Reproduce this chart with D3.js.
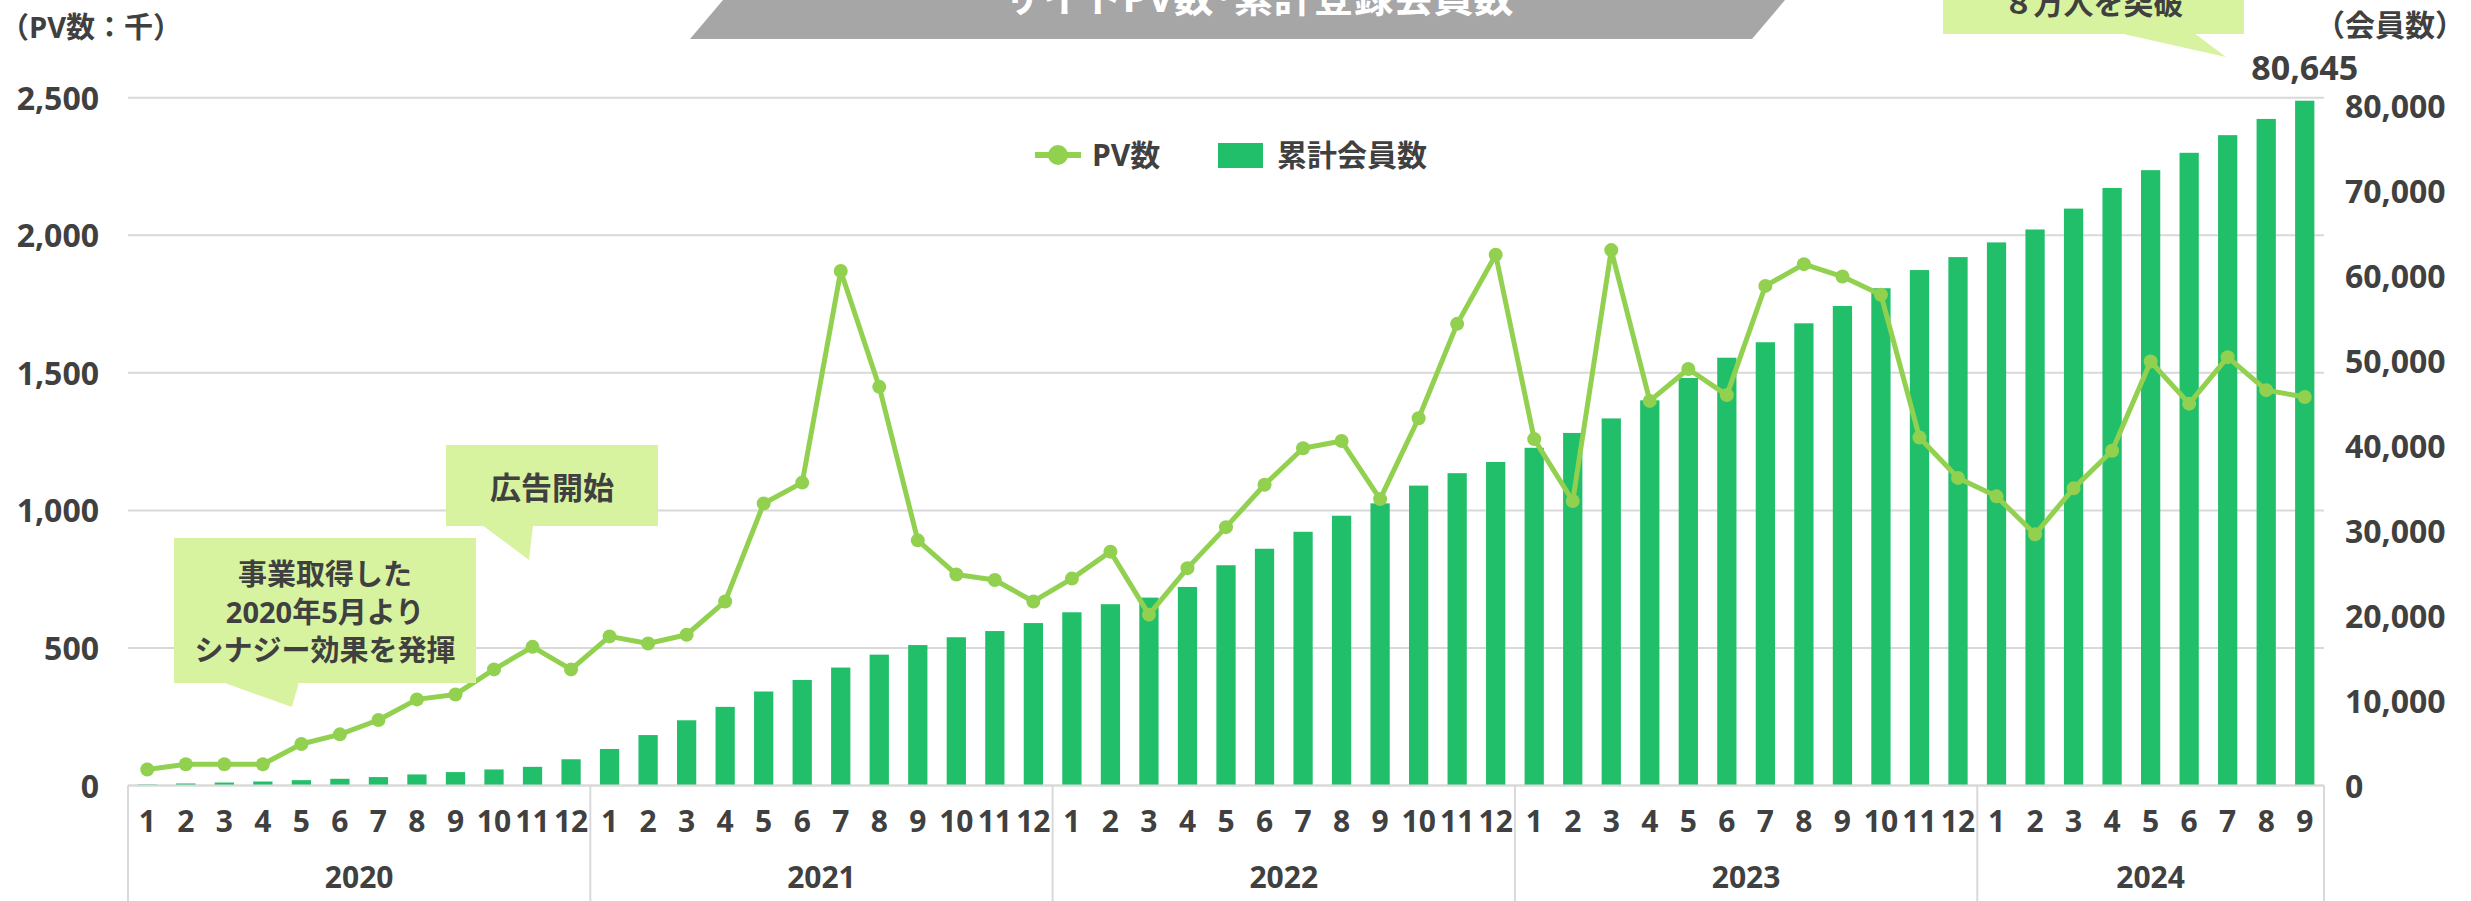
<!DOCTYPE html>
<html><head><meta charset="utf-8">
<script src="https://cdn.jsdelivr.net/npm/d3@7"></script>
<style>
html,body{margin:0;padding:0;background:#fff;}
svg{display:block;}
text{font-family:"Open Sans","Noto Sans CJK JP",sans-serif;font-weight:700;fill:#404040;}
</style></head>
<body>
<svg id="c" width="2471" height="901"></svg>
<script>
// ---- data ----
const years = ["2020","2021","2022","2023","2024"];
const monthsPerYear = [12,12,12,12,9];
const pv2020 = [58,77,77,77,151,186,238,313,331,422,504,422];
const pv2021 = [542,516,548,669,1025,1101,1870,1449,891,767,747,669];
const pv2022 = [752,850,621,790,939,1093,1226,1252,1041,1335,1678,1929];
const pv2023 = [1259,1034,1946,1398,1514,1419,1816,1895,1850,1784,1265,1118];
const pv2024 = [1051,913,1080,1217,1541,1388,1557,1437,1412];
const mem2020 = [120,240,350,470,630,790,990,1300,1580,1890,2200,3090];
const mem2021 = [4300,5940,7680,9260,11070,12430,13890,15410,16540,17460,18190,19130];
const mem2022 = [20400,21350,22130,23380,25940,27880,29880,31770,33230,35320,36780,38100];
const mem2023 = [39770,41520,43230,45360,47990,50380,52200,54430,56470,58560,60700,62230];
const mem2024 = [63960,65480,67940,70370,72470,74510,76590,78500,80645];
const leftTicks = [0,500,1000,1500,2000,2500];
const rightTicks = [0,10000,20000,30000,40000,50000,60000,70000,80000];
const title = "サイトPV数･累計登録会員数";
const leftUnit = "（PV数：千）";
const rightUnit = "（会員数）";
const seriesNames = ["PV数","累計会員数"];
const lastLabel = "80,645";
const callout1 = ["事業取得した","2020年5月より","シナジー効果を発揮"];
const callout2 = ["広告開始"];
const callout3 = ["８万人を突破"];

// ---- build ----
const pv = [].concat(pv2020,pv2021,pv2022,pv2023,pv2024);
const mem = [].concat(mem2020,mem2021,mem2022,mem2023,mem2024);
const cats = [];
years.forEach((y,yi)=>{for(let m=1;m<=monthsPerYear[yi];m++) cats.push({year:y,month:m});});
const data = cats.map((c,i)=>({i,year:c.year,month:c.month,pv:pv[i],mem:mem[i]}));

const svg = d3.select("#c");
const L = 128, R = 2324, T = 97.7, B = 785.5;
const x = d3.scaleBand().domain(d3.range(data.length)).range([L,R]).paddingInner(0.5).paddingOuter(0.25);
const step = x.step();
const cx = i => x(i) + x.bandwidth()/2;
const yL = d3.scaleLinear().domain([0,2500]).range([B,T]);
const yR = d3.scaleLinear().domain([0,81000]).range([B,T]);

const green = "#22BF6A", lime = "#92D050", grid = "#D9D9D9", calloutFill = "#D8F3A0";

// title banner
svg.append("polygon").attr("points","723,0 1785,0 1752,39 690,39").attr("fill","#A6A6A6");
svg.append("text").attr("x",1258).attr("y",12).attr("text-anchor","middle")
  .style("font-size","40px").style("fill","#fff").text(title);

// gridlines
svg.append("g").selectAll("line").data(leftTicks).join("line")
  .attr("x1",L).attr("x2",R).attr("y1",d=>yL(d)).attr("y2",d=>yL(d))
  .attr("stroke",grid).attr("stroke-width",2);

// left axis
const ga = svg.append("g").attr("transform",`translate(${L},0)`)
  .call(d3.axisLeft(yL).tickValues(leftTicks).tickSize(0).tickPadding(29).tickFormat(d3.format(",")));
ga.select(".domain").remove();
ga.selectAll("text").style("font-size","32px").style("font-family",null).attr("dy","0.36em");

// right axis
const gr = svg.append("g").attr("transform",`translate(${R},0)`)
  .call(d3.axisRight(yR).tickValues(rightTicks).tickSize(0).tickPadding(21).tickFormat(d3.format(",")));
gr.select(".domain").remove();
gr.selectAll("text").style("font-size","32px").style("font-family",null).attr("dy","0.36em");

// bars
svg.append("g").selectAll("rect").data(data).join("rect")
  .attr("x",d=>x(d.i)).attr("width",x.bandwidth())
  .attr("y",d=>yR(d.mem)).attr("height",d=>B-yR(d.mem)).attr("fill",green);

// category separators
const bounds = [0,12,24,36,48,57];
svg.append("g").selectAll("line").data(bounds).join("line")
  .attr("x1",d=>d===57?R:(d===0?L:x(d)-step*0.25)).attr("x2",d=>d===57?R:(d===0?L:x(d)-step*0.25))
  .attr("y1",B).attr("y2",901).attr("stroke",grid).attr("stroke-width",2);
svg.append("line").attr("x1",L).attr("x2",R).attr("y1",B).attr("y2",B).attr("stroke",grid).attr("stroke-width",2);

// month labels
const gx = svg.append("g").attr("transform",`translate(0,${B})`)
  .call(d3.axisBottom(x).tickSize(0).tickPadding(0).tickFormat(i=>data[i].month));
gx.select(".domain").remove();
gx.selectAll("text").style("font-size","30px").style("font-family",null).attr("y",36).attr("dy","0.36em");

// year labels
const yearStart = [0,12,24,36,48];
svg.append("g").selectAll("text").data(years).join("text")
  .attr("x",(d,k)=>(cx(yearStart[k]) + cx(yearStart[k]+monthsPerYear[k]-1))/2)
  .attr("y",877).attr("dy","0.36em").attr("text-anchor","middle").style("font-size","30px").text(d=>d);

// PV line
const line = d3.line().x(d=>cx(d.i)).y(d=>yL(d.pv));
svg.append("path").datum(data).attr("d",line).attr("fill","none").attr("stroke",lime).attr("stroke-width",5).attr("stroke-linejoin","round");
svg.append("g").selectAll("circle").data(data).join("circle")
  .attr("cx",d=>cx(d.i)).attr("cy",d=>yL(d.pv)).attr("r",7).attr("fill",lime);

// unit labels
svg.append("text").attr("x",0).attr("y",28).attr("dy","0.36em").style("font-size","29px").text(leftUnit);
svg.append("text").attr("x",2315).attr("y",25).attr("dy","0.36em").style("font-size","30px").text(rightUnit);

// last value label
svg.append("text").attr("x",cx(data.length-1)).attr("y",68).attr("dy","0.36em").attr("text-anchor","middle")
  .style("font-size","34px").text(lastLabel);

// legend
const lg = svg.append("g");
lg.append("line").attr("x1",1035).attr("x2",1081).attr("y1",155).attr("y2",155).attr("stroke",lime).attr("stroke-width",6);
lg.append("circle").attr("cx",1058).attr("cy",155).attr("r",10).attr("fill",lime);
lg.append("text").attr("x",1092).attr("y",155).attr("dy","0.36em").style("font-size","30px").text(seriesNames[0]);
lg.append("rect").attr("x",1218).attr("y",143).attr("width",45).attr("height",25).attr("fill",green);
lg.append("text").attr("x",1277).attr("y",155).attr("dy","0.36em").style("font-size","30px").text(seriesNames[1]);

// callouts
function callout(box, tail, lines, fs, ys){
  const g = svg.append("g");
  g.append("rect").attr("x",box[0]).attr("y",box[1]).attr("width",box[2]-box[0]).attr("height",box[3]-box[1]).attr("fill",calloutFill);
  g.append("polygon").attr("points",tail.map(p=>p.join(",")).join(" ")).attr("fill",calloutFill);
  const mid = (box[0]+box[2])/2;
  lines.forEach((t,k)=>g.append("text").attr("x",mid).attr("y",ys[k]).attr("dy","0.36em").attr("text-anchor","middle").style("font-size",fs+"px").text(t));
}
callout([174,538,476,683],[[222,682],[299,682],[292,707]],callout1,29,[575,613,651]);
callout([446,445,658,526],[[482,525],[533,525],[529,560]],callout2,31,[488]);
callout([1943,-10,2244,34],[[2119,33],[2194,33],[2226,57]],callout3,30,[3]);
</script>
</body></html>
